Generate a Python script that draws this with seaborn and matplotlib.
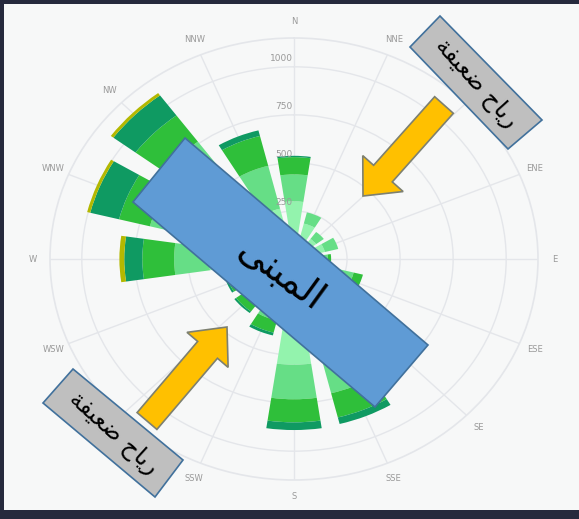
import numpy as np
import matplotlib
matplotlib.use('Agg')
import matplotlib.pyplot as plt
import seaborn as sns
from matplotlib.patches import Polygon, Rectangle

# %% Data

directions = ['N', 'NNE', 'NE', 'ENE', 'E', 'ESE', 'SE', 'SSE',
              'S', 'SSW', 'SW', 'WSW', 'W', 'WNW', 'NW', 'NNW']

# stacked frequency per wind speed class (lightest -> strongest)
speed_1 = [300, 190, 130, 150, 130, 200, 300, 540, 550, 250, 200, 200, 400, 500, 550, 270]
speed_2 = [140, 60, 45, 65, 30, 90, 100, 180, 180, 80, 80, 80, 165, 200, 210, 230]
speed_3 = [90, 0, 0, 0, 15, 45, 50, 130, 120, 65, 60, 50, 150, 150, 170, 160]
speed_4 = [7, 0, 0, 0, 0, 0, 0, 35, 40, 15, 10, 10, 85, 140, 130, 30]
speed_5 = [0, 0, 0, 0, 0, 0, 0, 0, 0, 0, 0, 0, 23, 15, 15, 0]

radial_ticks = [250, 500, 750, 1000]

building_label = '\uFEF0\uFEE8\uFE92\uFEE4\uFEDF\uFE8D'          # المبنى
weak_wind_label = '\uFE94\uFED4\uFEF4\uFECC\uFEBF \uFEA1\uFE8E\uFEF3\uFEAD'  # رياح ضعيفة

# %% Style

sns.set_theme(style='white')
plt.rcParams['font.family'] = ['DejaVu Sans']

speed_cols = ['#93f3ad', '#66de86', '#2fbf3a', '#0f9a62', '#b3b800']
bg_col = '#f7f8f8'
grid_col = '#e4e6ea'

W, H = 579, 519
fig = plt.figure(figsize=(W / 100, H / 100), dpi=100)
fig.patch.set_facecolor(bg_col)

#Dark frame round the slide
def px(x, y):
    return (x / W, 1 - y / H)

fig.add_artist(Rectangle((0, 0), 1, 1, transform=fig.transFigure,
                         facecolor='#262a3d', edgecolor='none', zorder=-2))
fig.add_artist(Rectangle(px(4, 510), (W - 4) / W, 506 / H, transform=fig.transFigure,
                         facecolor=bg_col, edgecolor='none', zorder=-1))

# %% Wind rose

#Polar axes (stretched like the screenshot)
ax = fig.add_axes([50 / W, 1 - 480 / H, 488 / W, 442 / H], projection='polar')
ax.set_aspect('auto')
ax.set_facecolor('none')
ax.set_theta_zero_location('N')
ax.set_theta_direction(-1)

theta = np.deg2rad(np.arange(len(directions)) * 22.5)
width = np.deg2rad(22.5) * 0.75

bottom = np.zeros(len(directions))
for vals, col in zip([speed_1, speed_2, speed_3, speed_4, speed_5], speed_cols):
    vals = np.array(vals, dtype=float)
    ax.bar(theta, vals, width=width, bottom=bottom, color=col,
           edgecolor='none', zorder=2)
    bottom = bottom + vals

ax.set_ylim(0, 1150)
ax.set_yticks(radial_ticks)
ax.set_yticklabels([])
ax.set_xticks(theta)
ax.set_xticklabels(directions, fontsize=6, color='#999999')
ax.tick_params(axis='x', pad=-1)
ax.grid(True, color=grid_col, lw=1)
ax.spines['polar'].set_color(grid_col)
ax.spines['polar'].set_linewidth(1.2)

#Radial tick labels along the north spoke
for rr in radial_ticks:
    ax.annotate(str(rr), xy=(0, rr), xytext=(-1, 6), textcoords='offset points',
                ha='right', va='center', fontsize=6.5, color='#999999', zorder=3)

# %% Overlays (building + weak wind notes)

def add_poly(pts, fc, ec, lw=1.2, z=5):
    fig.add_artist(Polygon([px(x, y) for x, y in pts], closed=True,
                           transform=fig.transFigure, facecolor=fc,
                           edgecolor=ec, lw=lw, zorder=z))

def arrow_pts(tail, tip, sw, hw, hl):
    t = np.array(tail, float)
    p = np.array(tip, float)
    d = (p - t) / np.linalg.norm(p - t)
    n = np.array([-d[1], d[0]])
    b = p - d * hl
    return [t + n * sw, b + n * sw, b + n * hw, p, b - n * hw, b - n * sw, t - n * sw]

#Orange arrows
add_poly(arrow_pts((444, 105), (363, 196), 12.5, 27, 30), '#ffc000', '#7d8070')
add_poly(arrow_pts((147, 421), (227, 327), 13, 27, 30), '#ffc000', '#7d8070')

#Building
add_poly([(133, 202), (185, 138), (428, 345), (375, 407)], '#5f9bd5', '#41719c')
fig.text(*px(280, 276), building_label, fontsize=27, rotation=-36,
         ha='center', va='center', color='black', zorder=6)

#Grey notes
add_poly([(410, 47), (440, 16), (542, 120), (508, 149)], '#bfbfbf', '#41719c')
fig.text(*px(476, 83), weak_wind_label, fontsize=17, rotation=-48,
         ha='center', va='center', color='black', zorder=6)

add_poly([(43, 403), (73, 369), (183, 460), (155, 497)], '#bfbfbf', '#41719c')
fig.text(*px(113, 433), weak_wind_label, fontsize=17, rotation=-42,
         ha='center', va='center', color='black', zorder=6)

fig.savefig('out.png', dpi=100, facecolor=fig.get_facecolor())
